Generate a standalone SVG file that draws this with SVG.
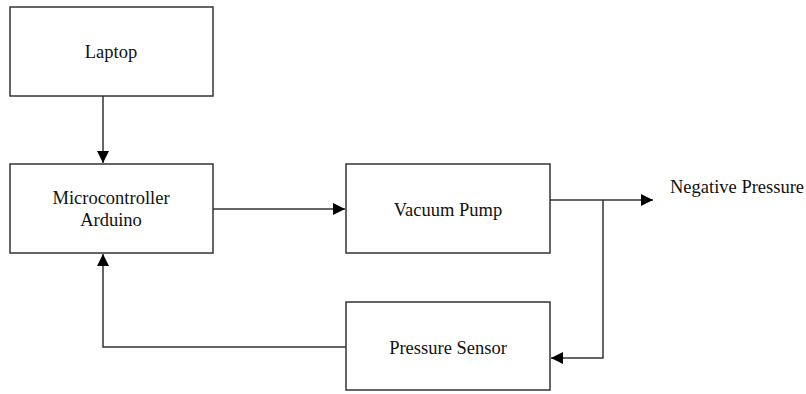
<svg xmlns="http://www.w3.org/2000/svg" width="806" height="394" viewBox="0 0 806 394">
<style>
.box{fill:#fff;stroke:#333;stroke-width:1.5}
.t{font-family:"Liberation Serif",serif;font-size:18.5px;fill:#111;text-anchor:middle}
.c{fill:none;stroke:#333;stroke-width:1.5}
</style>
<defs>
<marker id="ah" markerWidth="12" markerHeight="12" refX="10" refY="5" orient="auto" markerUnits="userSpaceOnUse" viewBox="0 0 10 10">
<path d="M0,0 L10,5 L0,10 Z" fill="#000"/>
</marker>
</defs>
<rect width="806" height="394" fill="#fff"/>
<g id="laptop"><rect class="box" x="10" y="7" width="203" height="89"/><text class="t" x="111" y="58">Laptop</text></g>
<g id="micro"><rect class="box" x="10" y="164" width="203" height="89"/><text class="t" x="111" y="204">Microcontroller</text><text class="t" x="111" y="226">Arduino</text></g>
<g id="pump"><rect class="box" x="346" y="164" width="204" height="89"/><text class="t" x="448" y="216">Vacuum Pump</text></g>
<g id="sensor"><rect class="box" x="346" y="302" width="204" height="88"/><text class="t" x="448" y="354">Pressure Sensor</text></g>
<g id="negp"><text class="t" x="670" y="193" style="text-anchor:start">Negative Pressure</text></g>
<g id="connectors">
<path class="c" d="M103,96 V163" marker-end="url(#ah)"/>
<path class="c" d="M213,209 H345" marker-end="url(#ah)"/>
<path class="c" d="M550,200 H653" marker-end="url(#ah)"/>
<path class="c" d="M603,200 V358 H551" marker-end="url(#ah)"/>
<path class="c" d="M346,347 H103 V254" marker-end="url(#ah)"/>
</g>
</svg>
